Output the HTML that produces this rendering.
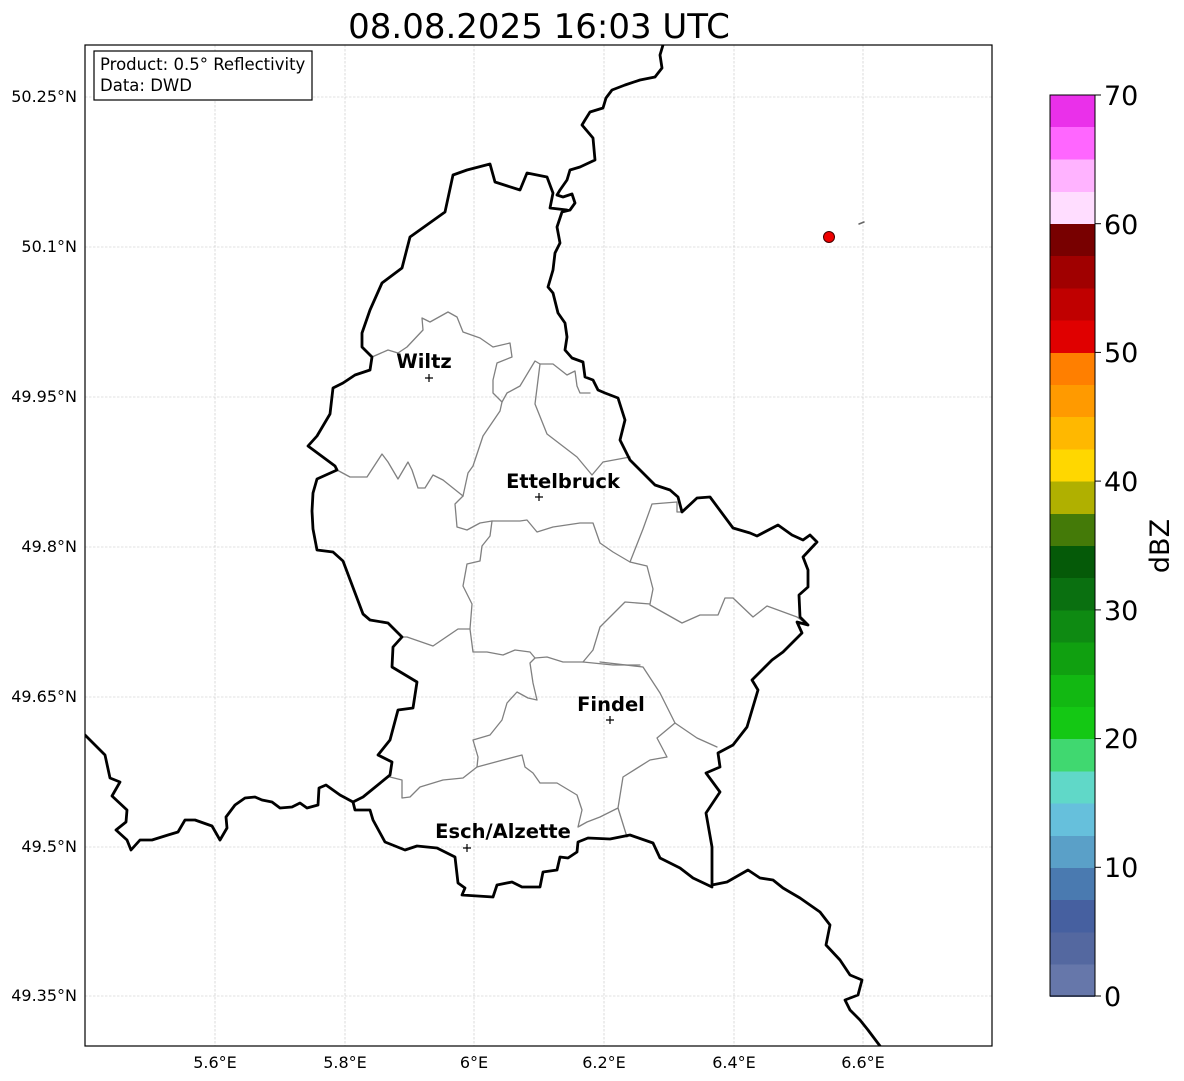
<!DOCTYPE html>
<html><head><meta charset="utf-8"><style>
html,body{margin:0;padding:0;background:#fff;}
svg{display:block;font-family:"DejaVu Sans","Liberation Sans",sans-serif;}
</style></head><body>
<svg width="1184" height="1081" viewBox="0 0 1184 1081" xmlns="http://www.w3.org/2000/svg">
<rect width="1184" height="1081" fill="#fff"/>
<text x="539" y="38" font-size="34" text-anchor="middle" fill="#000">08.08.2025 16:03 UTC</text>
<defs><clipPath id="ax"><rect x="85" y="45" width="907" height="1001"/></clipPath></defs>
<g stroke="#c4c4c4" stroke-width="0.6" stroke-dasharray="2.5,1.5">
<line x1="215" y1="45" x2="215" y2="1046"/><line x1="345" y1="45" x2="345" y2="1046"/><line x1="474" y1="45" x2="474" y2="1046"/><line x1="604" y1="45" x2="604" y2="1046"/><line x1="734" y1="45" x2="734" y2="1046"/><line x1="863" y1="45" x2="863" y2="1046"/>
<line x1="85" y1="97" x2="992" y2="97"/><line x1="85" y1="247" x2="992" y2="247"/><line x1="85" y1="397" x2="992" y2="397"/><line x1="85" y1="547" x2="992" y2="547"/><line x1="85" y1="697" x2="992" y2="697"/><line x1="85" y1="847" x2="992" y2="847"/><line x1="85" y1="996" x2="992" y2="996"/>
</g>
<g clip-path="url(#ax)" fill="none" stroke-linejoin="round" stroke-linecap="round">
<g stroke="#808080" stroke-width="1.3">
<polyline points="372,357 388,350 398,353 407,347 423,330 422,318 430,322 448,312 457,317 463,332 480,338 493,347 510,343 512,357 497,363 493,380 493,393 502,402 500,411 483,436 473,466 468,473 463,496"/>
<polyline points="337,470 350,477 367,477 382,454 388,462 398,479 408,462 412,470 418,488 425,488 433,475 443,480 453,488 463,496"/>
<polyline points="502,402 507,393 520,386 535,361 540,364 553,364 567,375 575,371 577,386 580,393 590,393"/>
<polyline points="540,364 535,404 547,434 577,457 592,475 603,462 630,457"/>
<polyline points="463,496 455,504 457,527 467,530 480,523 492,521 507,521 520,521 527,520 537,532 553,527 580,523 593,523 600,543 613,552 630,562 647,566 653,589 650,604"/>
<polyline points="630,562 643,529 652,504 677,502 677,512 682,512"/>
<polyline points="492,521 490,536 482,546 480,561 467,564 463,586 472,604 470,629 458,629 433,646 407,637 402,637"/>
<polyline points="470,629 473,652 487,652 503,655 515,650 530,652 535,658 547,657 563,662 583,662 613,665 640,665"/>
<polyline points="650,604 625,602 600,627 593,650 583,662"/>
<polyline points="650,605 682,623 700,615 718,615 725,598 733,598 753,617 767,606 797,617 808,625"/>
<polyline points="600,662 643,667 660,693 675,723 697,738 717,747"/>
<polyline points="675,723 657,738 667,757 650,760 623,777 618,808 600,817 587,822 578,827 582,810 577,795 557,783 540,783 533,773 525,767 522,755 503,760 477,767"/>
<polyline points="618,808 627,837"/>
<polyline points="535,658 530,663 533,683 537,700 528,698 517,692 507,703 502,720 490,735 473,740 478,757 477,767 463,778 443,780 420,787 410,797 402,798 402,780 390,777"/>
</g>
<g stroke="#000" stroke-width="2.8">
<polyline points="663,45 660,55 662,68 655,77 640,80 625,85 612,90 606,98 603,108 590,112 585,120 582,125 593,138 595,160 580,167 570,170 567,180 560,190 557,195 563,197 572,194 575,203 570,210 562,212 557,227 560,243 555,253 553,270 548,287 553,293 558,313 565,323 567,337 565,350 572,358 583,362 585,377 593,380 598,390 605,393 618,398 625,420 620,440 630,460 645,475 655,485 670,490 678,497 682,512 697,498 710,497 733,528 750,533 757,536 778,525 792,535 803,540 810,535 817,542 803,557 808,570 808,587 799,595 800,617 808,625 797,622 802,633 783,652 772,660 752,680 758,690 747,727 733,745 718,753 720,767 706,773 720,792 706,813 712,847 712,885 727,882 748,870 760,878 773,880 783,888 800,898 820,912 830,925 826,945 840,960 850,975 862,980 858,995 845,1000 850,1010 860,1020 868,1030 880,1046"/>
<polyline points="567,210 550,208 553,193 547,177 527,173 520,190 495,182 490,164 467,170 453,175 445,212 410,237 402,268 382,283 370,310 362,333 362,347 372,357 370,370 355,375 343,383 333,388 330,414 317,436 308,446 335,466 337,470 317,479 313,493 312,511 313,529 317,550 333,552 343,561 363,614 370,620 388,623 402,637 393,647 392,667 417,682 413,708 398,710 390,740 378,755 392,762 390,775 363,797 353,802 355,810 370,810 373,820 385,842 405,850 417,846 437,848 455,857 458,883 465,888 462,895 493,897 497,885 512,882 522,887 540,887 543,872 557,870 560,857 568,858 577,852 578,842 588,838 610,839 630,835 653,843 660,858 680,868 693,878 712,887"/>
<polyline points="85,735 105,755 110,778 120,782 112,796 127,810 126,822 116,830 127,840 131,850 140,840 152,840 168,835 178,832 185,820 195,820 212,826 220,840 227,828 226,817 235,805 245,798 255,797 262,800 272,802 280,808 292,807 300,803 307,808 318,805 319,788 326,785 340,795 353,802"/>
</g>
<line x1="859" y1="224" x2="864" y2="222" stroke="#666" stroke-width="1.5"/>
</g>
<circle cx="829" cy="237" r="5.5" fill="#ee0000" stroke="#400" stroke-width="1"/>
<g font-weight="bold" font-size="19.5" text-anchor="middle" fill="#000">
<text x="424" y="368">Wiltz</text>
<text x="563" y="488">Ettelbruck</text>
<text x="611" y="711">Findel</text>
<text x="503" y="838">Esch/Alzette</text>
</g>
<g stroke="#000" stroke-width="1.2">
<path d="M425,378h8M429,374v8"/><path d="M535,497h8M539,493v8"/><path d="M606,720h8M610,716v8"/><path d="M463,848h8M467,844v8"/>
</g>
<rect x="85" y="45" width="907" height="1001" fill="none" stroke="#000" stroke-width="1.2"/>
<rect x="94" y="51" width="218" height="49" fill="#fff" stroke="#000" stroke-width="1.2"/>
<text x="100" y="70" font-size="16.5">Product: 0.5° Reflectivity</text>
<text x="100" y="91" font-size="16.5">Data: DWD</text>
<g font-size="16" text-anchor="end">
<text x="77" y="102">50.25°N</text><text x="77" y="252">50.1°N</text><text x="77" y="402">49.95°N</text><text x="77" y="552">49.8°N</text><text x="77" y="702">49.65°N</text><text x="77" y="852">49.5°N</text><text x="77" y="1001">49.35°N</text>
</g>
<g font-size="16" text-anchor="middle">
<text x="215" y="1068">5.6°E</text><text x="345" y="1068">5.8°E</text><text x="474" y="1068">6°E</text><text x="604" y="1068">6.2°E</text><text x="734" y="1068">6.4°E</text><text x="863" y="1068">6.6°E</text>
</g>
<g shape-rendering="crispEdges">
<rect x="1050" y="963.8" width="45" height="33" fill="#6677aa"/>
<rect x="1050" y="931.6" width="45" height="33" fill="#5468a0"/>
<rect x="1050" y="899.4" width="45" height="33" fill="#4660a0"/>
<rect x="1050" y="867.2" width="45" height="33" fill="#4a7ab0"/>
<rect x="1050" y="835" width="45" height="33" fill="#5aa0c8"/>
<rect x="1050" y="802.8" width="45" height="33" fill="#66c0dc"/>
<rect x="1050" y="770.6" width="45" height="33" fill="#60d8c8"/>
<rect x="1050" y="738.4" width="45" height="33" fill="#40d870"/>
<rect x="1050" y="706.2" width="45" height="33" fill="#14c814"/>
<rect x="1050" y="674" width="45" height="33" fill="#12b812"/>
<rect x="1050" y="641.8" width="45" height="33" fill="#10a010"/>
<rect x="1050" y="609.6" width="45" height="33" fill="#0e8a12"/>
<rect x="1050" y="577.4" width="45" height="33" fill="#0a7010"/>
<rect x="1050" y="545.2" width="45" height="33" fill="#055a08"/>
<rect x="1050" y="513" width="45" height="33" fill="#447a08"/>
<rect x="1050" y="480.8" width="45" height="33" fill="#b0b000"/>
<rect x="1050" y="448.6" width="45" height="33" fill="#ffd700"/>
<rect x="1050" y="416.4" width="45" height="33" fill="#ffb800"/>
<rect x="1050" y="384.2" width="45" height="33" fill="#ff9a00"/>
<rect x="1050" y="352" width="45" height="33" fill="#ff7f00"/>
<rect x="1050" y="319.8" width="45" height="33" fill="#e00000"/>
<rect x="1050" y="287.6" width="45" height="33" fill="#c00000"/>
<rect x="1050" y="255.4" width="45" height="33" fill="#a00000"/>
<rect x="1050" y="223.2" width="45" height="33" fill="#780000"/>
<rect x="1050" y="191" width="45" height="33" fill="#ffddff"/>
<rect x="1050" y="158.8" width="45" height="33" fill="#ffb3ff"/>
<rect x="1050" y="126.6" width="45" height="33" fill="#ff66ff"/>
<rect x="1050" y="95" width="45" height="32" fill="#ea30ea"/>
</g>
<rect x="1050" y="95" width="45" height="901" fill="none" stroke="#000" stroke-width="1"/>
<g stroke="#000" stroke-width="1"><line x1="1095" y1="996" x2="1101" y2="996"/><line x1="1095" y1="867.3" x2="1101" y2="867.3"/><line x1="1095" y1="738.6" x2="1101" y2="738.6"/><line x1="1095" y1="609.9" x2="1101" y2="609.9"/><line x1="1095" y1="481.1" x2="1101" y2="481.1"/><line x1="1095" y1="352.4" x2="1101" y2="352.4"/><line x1="1095" y1="223.7" x2="1101" y2="223.7"/><line x1="1095" y1="95" x2="1101" y2="95"/></g>
<g font-size="27">
<text x="1104" y="1006">0</text><text x="1104" y="877">10</text><text x="1104" y="748">20</text><text x="1104" y="620">30</text><text x="1104" y="491">40</text><text x="1104" y="362">50</text><text x="1104" y="234">60</text><text x="1104" y="105">70</text>
</g>
<text transform="translate(1169,546) rotate(-90)" font-size="27" text-anchor="middle">dBZ</text>
</svg>
</body></html>
